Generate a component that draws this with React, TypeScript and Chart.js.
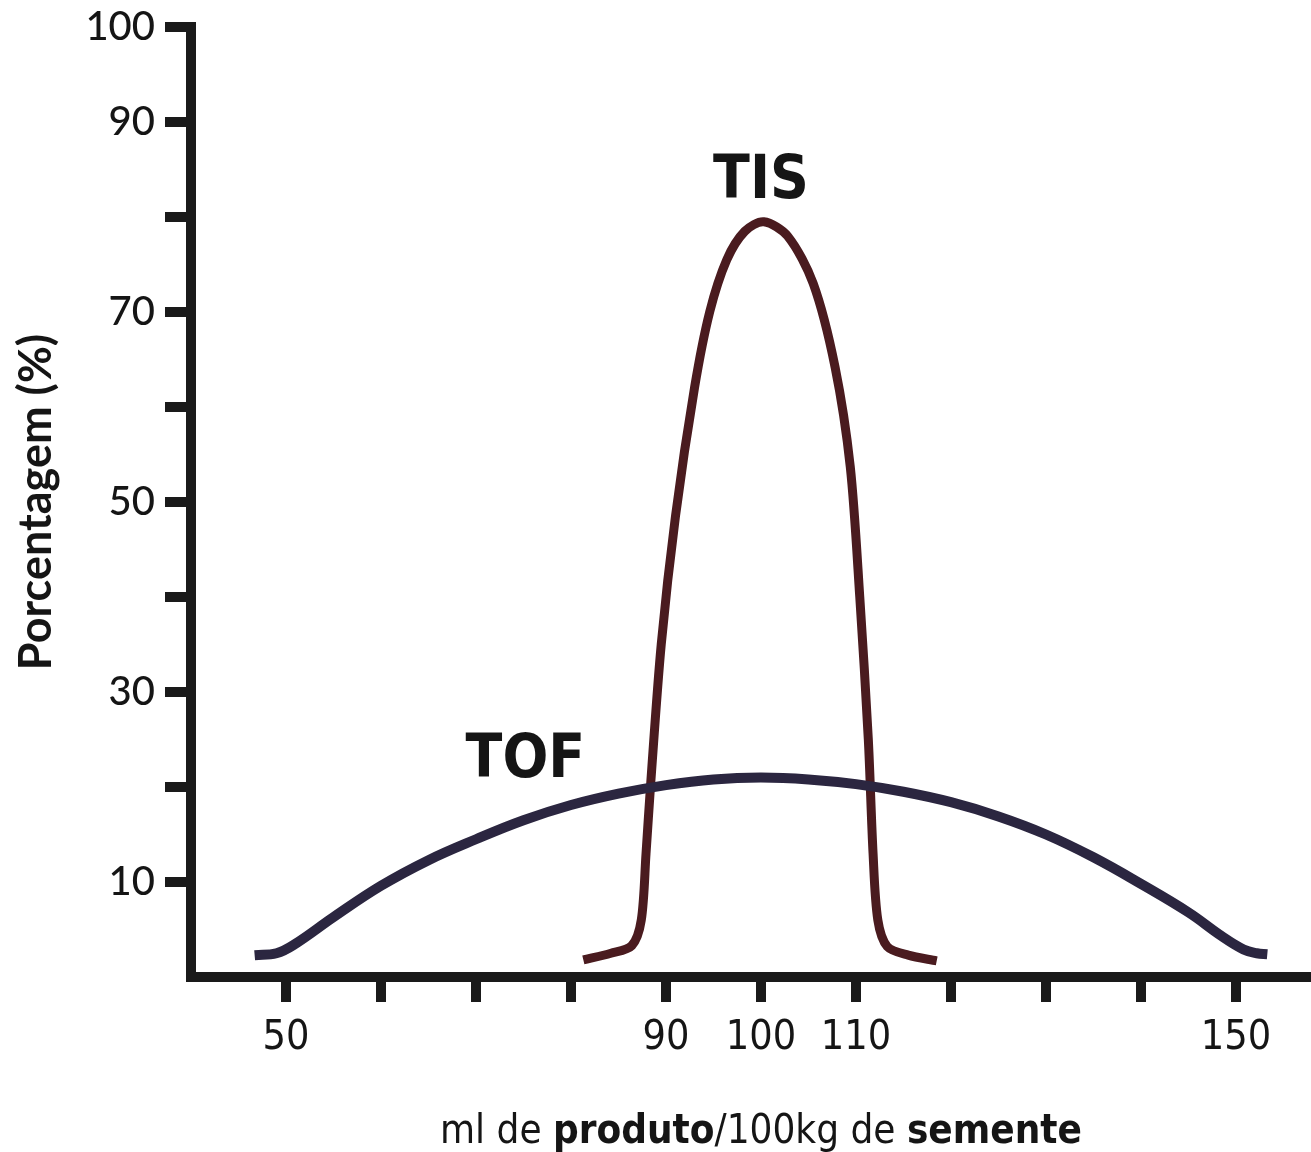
import React, { useEffect, useRef } from "react";
import { Chart, registerables } from "chart.js";

Chart.register(...registerables);

// ---- Data ----
const tofX = [46.7, 49.0, 51.0, 55, 60, 65, 70, 75, 80, 85, 90, 95, 100, 105, 110, 115, 120, 125, 130, 135, 140, 145, 148.5, 150.8, 152.2, 153.3];
const tofY = [2.3, 2.5, 3.5, 6.3, 9.6, 12.3, 14.5, 16.5, 18.1, 19.3, 20.2, 20.8, 21.0, 20.8, 20.3, 19.5, 18.4, 16.9, 15.0, 12.6, 9.8, 6.8, 4.3, 2.9, 2.5, 2.4];

const tisX = [81.3, 84.2, 86.4, 87.4, 87.9, 88.4, 89.5, 91.0, 93.0, 94.6, 96.4, 98.3, 100.3, 102.8, 105.5, 107.8, 109.4, 110.4, 111.3, 111.8, 112.3, 113.3, 115.5, 118.5];
const tisY = [1.8, 2.5, 3.3, 6.0, 13.0, 20.5, 35.0, 48.5, 62.0, 70.0, 75.5, 78.5, 79.5, 78.0, 73.0, 64.2, 53.7, 40.0, 25.0, 13.0, 6.0, 3.2, 2.3, 1.7];

const yLabelled = [10, 30, 50, 70, 90, 100];
const xLabelled = [50, 90, 100, 110, 150];

const seriesLabels = [
  { text: "TIS", x: 100, y: 83.6 },
  { text: "TOF", x: 75.2, y: 22.7 },
];

const yTitle = "Porcentagem (%)";
const xTitleParts = [
  { text: "ml de ", bold: false },
  { text: "produto", bold: true },
  { text: "/100kg de ", bold: false },
  { text: "semente", bold: true },
];

const AXIS_COLOR = "#1a1a1a";
const COND = '"DejaVu Sans Condensed", "Liberation Sans Narrow", "DejaVu Sans", sans-serif';

const textPlugin = {
  id: "textPlugin",
  afterDraw(chart: any) {
    const { ctx, scales } = chart;
    const xs = scales.x;
    const ys = scales.y;
    ctx.save();
    ctx.fillStyle = "#151515";
    ctx.textAlign = "center";
    ctx.textBaseline = "middle";
    ctx.font = `bold 60px ${COND}`;
    for (const l of seriesLabels) {
      ctx.fillText(l.text, xs.getPixelForValue(l.x), ys.getPixelForValue(l.y));
    }
    // x axis title with mixed weights
    const fontFor = (b: boolean) => `${b ? "bold " : ""}40px ${COND}`;
    let total = 0;
    const widths = xTitleParts.map((p) => {
      ctx.font = fontFor(p.bold);
      const w = ctx.measureText(p.text).width;
      total += w;
      return w;
    });
    let cx = xs.getPixelForValue(100) - total / 2;
    ctx.textAlign = "left";
    ctx.textBaseline = "alphabetic";
    xTitleParts.forEach((p, i) => {
      ctx.font = fontFor(p.bold);
      ctx.fillText(p.text, cx, 1143);
      cx += widths[i];
    });
    ctx.restore();
  },
};

export default function App() {
  const ref = useRef<HTMLCanvasElement>(null);
  useEffect(() => {
    if (!ref.current) return;
    const chart = new Chart(ref.current, {
      type: "line",
      data: {
        datasets: [
          {
            label: "TOF",
            data: tofX.map((x, i) => ({ x, y: tofY[i] })),
            borderColor: "#2b2640",
            borderWidth: 10,
            pointRadius: 0,
            tension: 0.4,
            borderCapStyle: "butt",
            borderJoinStyle: "round",
            fill: false,
          },
          {
            label: "TIS",
            data: tisX.map((x, i) => ({ x, y: tisY[i] })),
            borderColor: "#4a1b1f",
            borderWidth: 9,
            pointRadius: 0,
            tension: 0.3,
            borderCapStyle: "butt",
            borderJoinStyle: "round",
            fill: false,
          },
        ],
      },
      options: {
        animation: false,
        responsive: false,
        maintainAspectRatio: false,
        layout: { padding: { top: 27, right: 0, left: 0, bottom: 0 } },
        plugins: { legend: { display: false }, tooltip: { enabled: false } },
        scales: {
          x: {
            type: "linear",
            min: 40,
            max: 157.9,
            afterFit: (s: any) => {
              s.height = 175;
            },
            border: { display: true, width: 10, color: AXIS_COLOR },
            grid: {
              drawOnChartArea: false,
              drawTicks: true,
              tickLength: 25,
              tickWidth: 10,
              tickColor: (c: any) => (c.tick && c.tick.value === 40 ? "rgba(0,0,0,0)" : AXIS_COLOR),
              lineWidth: 0,
            },
            ticks: {
              stepSize: 10,
              includeBounds: false,
              autoSkip: false,
              maxRotation: 0,
              padding: 12,
              color: "#151515",
              font: { family: COND, size: 41 },
              callback: (v: any) => (xLabelled.includes(Number(v)) ? String(v) : ""),
            },
          },
          y: {
            type: "linear",
            min: 0,
            max: 100,
            afterFit: (s: any) => {
              s.width = 191;
            },
            border: { display: true, width: 10, color: AXIS_COLOR },
            grid: {
              drawOnChartArea: false,
              drawTicks: true,
              tickLength: 26,
              tickWidth: 10,
              tickColor: (c: any) => (c.tick && c.tick.value === 0 ? "rgba(0,0,0,0)" : AXIS_COLOR),
              lineWidth: 0,
            },
            ticks: {
              stepSize: 10,
              autoSkip: false,
              padding: 10,
              color: "#151515",
              font: { family: "Lato", size: 40, weight: "500", lineHeight: 0.8 },
              callback: (v: any) => (yLabelled.includes(Number(v)) ? String(v) : ""),
            },
            title: {
              display: true,
              text: yTitle,
              color: "#151515",
              padding: { top: 9, bottom: 0 },
              font: { family: "Lato", size: 45, weight: "bold" },
            },
          },
        },
      },
      plugins: [textPlugin],
    });
    return () => chart.destroy();
  }, []);
  return (
    <div style={{ position: "absolute", left: 0, top: 0, width: 1311, height: 1152, background: "#fff" }}>
      <canvas ref={ref} width={1311} height={1152} style={{ width: 1311, height: 1152, display: "block" }} />
    </div>
  );
}
